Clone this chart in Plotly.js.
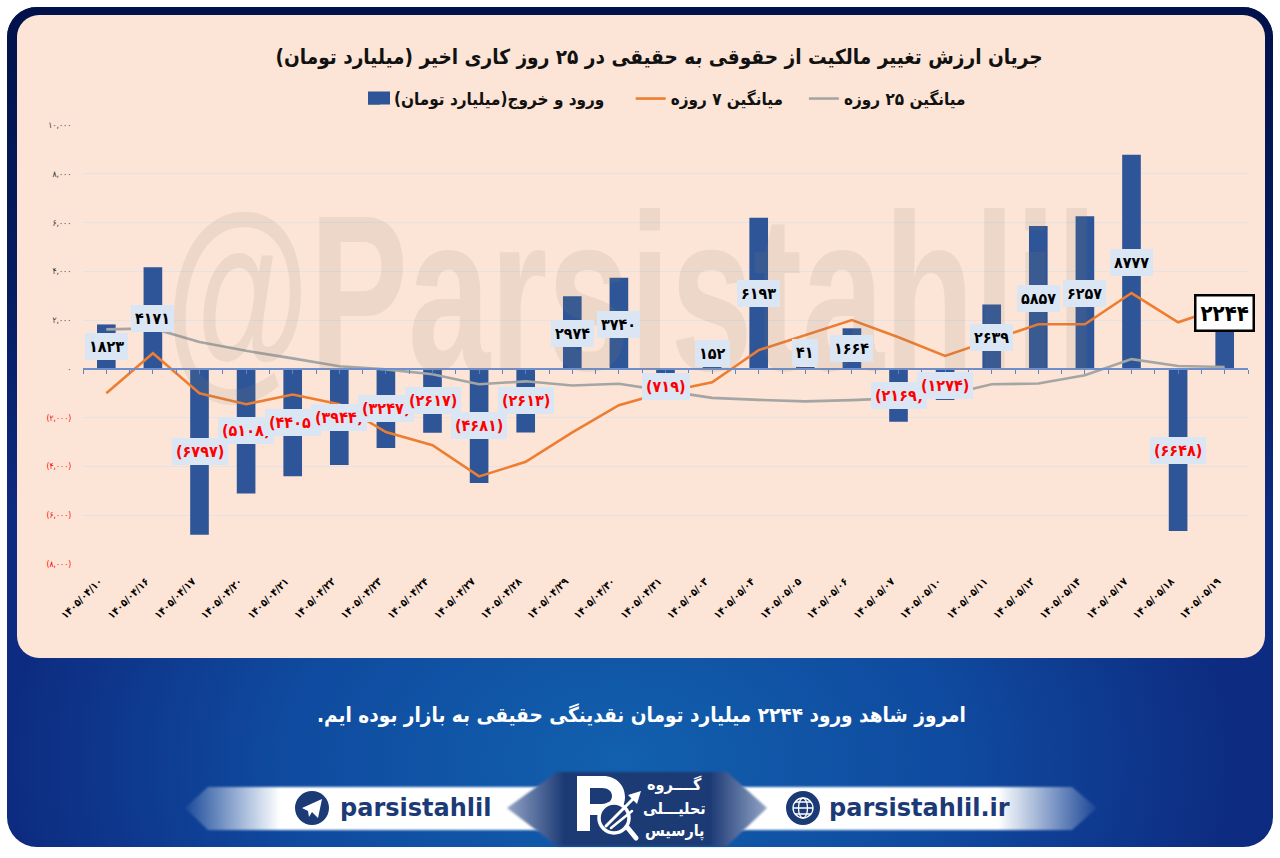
<!DOCTYPE html>
<html><head><meta charset="utf-8">
<script src="https://cdn.plot.ly/plotly-3.0.1.min.js"></script>
<style>
html,body{margin:0;padding:0;background:#fff;width:1280px;height:858px;overflow:hidden}
#bg{position:absolute;left:0;top:0}
#chart{position:absolute;left:0;top:0;width:1280px;height:858px}
</style></head><body>
<svg id="bg" width="1280" height="858" viewBox="0 0 1280 858" xmlns="http://www.w3.org/2000/svg">
<defs>
<radialGradient id="glow" gradientUnits="userSpaceOnUse" cx="0" cy="0" r="1" gradientTransform="translate(620 760) scale(620 420)">
<stop offset="0" stop-color="#1260ae"/><stop offset=".55" stop-color="#0f4a9f"/><stop offset="1" stop-color="#0d2b80"/></radialGradient>
<linearGradient id="topdark" x1="0" y1="0" x2="0" y2="1"><stop offset="0" stop-color="#01114a"/><stop offset=".35" stop-color="#01114a" stop-opacity=".55"/><stop offset=".6" stop-color="#01114a" stop-opacity="0"/></linearGradient>
<linearGradient id="bandL" x1="0" y1="0" x2="1" y2="0"><stop offset="0" stop-color="#fff" stop-opacity=".05"/><stop offset=".25" stop-color="#fff"/><stop offset="1" stop-color="#fff"/></linearGradient>
<linearGradient id="bandR" x1="0" y1="0" x2="1" y2="0"><stop offset="0" stop-color="#fff"/><stop offset=".74" stop-color="#fff"/><stop offset="1" stop-color="#fff" stop-opacity=".05"/></linearGradient>
<linearGradient id="hex" x1="0" y1="0" x2="1" y2="0"><stop offset="0" stop-color="#93a4c6"/><stop offset=".22" stop-color="#1c3a75"/><stop offset=".78" stop-color="#1c3a75"/><stop offset="1" stop-color="#93a4c6"/></linearGradient>
<filter id="soft" x="-5%" y="-5%" width="110%" height="110%"><feGaussianBlur stdDeviation="1.2"/></filter>
<filter id="softer" x="-5%" y="-10%" width="110%" height="120%"><feGaussianBlur stdDeviation="1"/></filter>
</defs>
<rect x="7" y="7" width="1266" height="840" rx="30" fill="url(#glow)"/>
<rect x="7" y="7" width="1266" height="840" rx="30" fill="url(#topdark)"/>
<rect x="17" y="15" width="1248" height="643" rx="22" fill="#fce5d6"/>
<polygon points="185,808 208,787 565,787 565,830 208,830" fill="url(#bandL)" filter="url(#softer)"/>
<polygon points="715,787 1072,787 1097,808 1072,830 715,830" fill="url(#bandR)" filter="url(#softer)"/>
<polygon points="507,808 557,772 727,772 767,808 727,846 557,846" fill="url(#hex)" filter="url(#soft)"/>
<path d="M577 776H603C617 776 625 786 625 797C625 806 620 813 610 815H590V831H577Z M590 788V804H602C608 804 612 801 612 796C612 791 608 788 602 788Z" fill="#fff" fill-rule="evenodd"/>
<circle cx="614" cy="818" r="15" fill="#1c3a75" stroke="#fff" stroke-width="3.5"/>
<g stroke="#fff" fill="none" stroke-linecap="round"><path d="M606 826L634 798" stroke-width="3"/><path d="M611 828L632 811" stroke-width="2.5"/><path d="M627 827L636 838" stroke-width="5"/></g>
<polygon points="641,791 628,795 637,804" fill="#fff"/>
<circle cx="312" cy="808" r="17" fill="#1c3a75"/>
<polygon points="302,808 322,799 318,818 312,812 309,817 308,811" fill="#fff"/>
<circle cx="803" cy="808" r="17" fill="#1c3a75"/>
<g fill="none" stroke="#fff" stroke-width="1.3"><circle cx="803" cy="808" r="10"/><ellipse cx="803" cy="808" rx="4.5" ry="10"/><path d="M793 808h20M795 802h16M795 814h16"/></g>
</svg>
<div id="chart"></div>
<script>
// ---------- data ----------
const dates = ['۱۴۰۵/۰۴/۱۰','۱۴۰۵/۰۴/۱۶','۱۴۰۵/۰۴/۱۷','۱۴۰۵/۰۴/۲۰','۱۴۰۵/۰۴/۲۱','۱۴۰۵/۰۴/۲۲','۱۴۰۵/۰۴/۲۳','۱۴۰۵/۰۴/۲۴','۱۴۰۵/۰۴/۲۷','۱۴۰۵/۰۴/۲۸','۱۴۰۵/۰۴/۲۹','۱۴۰۵/۰۴/۳۰','۱۴۰۵/۰۴/۳۱','۱۴۰۵/۰۵/۰۳','۱۴۰۵/۰۵/۰۴','۱۴۰۵/۰۵/۰۵','۱۴۰۵/۰۵/۰۶','۱۴۰۵/۰۵/۰۷','۱۴۰۵/۰۵/۱۰','۱۴۰۵/۰۵/۱۱','۱۴۰۵/۰۵/۱۲','۱۴۰۵/۰۵/۱۴','۱۴۰۵/۰۵/۱۷','۱۴۰۵/۰۵/۱۸','۱۴۰۵/۰۵/۱۹'];
const flow = [1823,4171,-6797,-5108,-4405,-3944,-3247,-2617,-4681,-2613,2974,3740,-719,152,6193,41,1664,-2169,-1274,2639,5857,6257,8777,-6648,2244];
const avg7 = [-1000,640,-1000,-1450,-1050,-1450,-2590,-3130,-4410,-3810,-2600,-1490,-950,-550,770,1380,2000,1300,530,1180,1830,1830,3110,1910,2550];
const avg25 = [1620,1660,1100,740,430,110,-20,-220,-630,-510,-680,-610,-900,-1190,-1270,-1330,-1280,-1200,-1080,-630,-600,-260,400,120,80];
const flowLabels = ['۱۸۲۳','۴۱۷۱','(۶۷۹۷)','(۵۱۰۸)','(۴۴۰۵)','(۳۹۴۴)','(۳۲۴۷)','(۲۶۱۷)','(۴۶۸۱)','(۲۶۱۳)','۲۹۷۴','۳۷۴۰','(۷۱۹)','۱۵۲','۶۱۹۳','۴۱','۱۶۶۴','(۲۱۶۹)','(۱۲۷۴)','۲۶۳۹','۵۸۵۷','۶۲۵۷','۸۷۷۷','(۶۶۴۸)','۲۲۴۴'];
const yTickVals = [-8000,-6000,-4000,-2000,0,2000,4000,6000,8000,10000];
const yTickText = ['(۸,۰۰۰)','(۶,۰۰۰)','(۴,۰۰۰)','(۲,۰۰۰)','۰','۲,۰۰۰','۴,۰۰۰','۶,۰۰۰','۸,۰۰۰','۱۰,۰۰۰'];
const titleText = 'جریان ارزش تغییر مالکیت از حقوقی به حقیقی در ۲۵ روز کاری اخیر (میلیارد تومان)';
const seriesNames = ['ورود و خروج(میلیارد تومان)','میانگین ۷ روزه','میانگین ۲۵ روزه'];
const caption = 'امروز شاهد ورود ۲۲۴۴ میلیارد تومان نقدینگی حقیقی به بازار بوده ایم.';
// ---------- label placement (axis units) ----------
const labelAnchor = [930,2080,-3370,-2510,-2190,-1980,-1610,-1280,-2310,-1280,1460,1830,-710,640,3100,680,850,-1080,-670,1300,2900,3100,4370,-3330,2280];

const RLM='\u200F', NB='\u00A0', FA='"DejaVu Sans Condensed","DejaVu Sans",sans-serif';
const L=83,R=1248,T=125,B=564;
const px=x=>(x-L)/(R-L), py=y=>(B-y)/(B-T);
const rtl=s=>RLM+s+RLM;

const traces=[
 {type:'bar',x:dates,y:flow,name:rtl(seriesNames[0])+NB.repeat(4),marker:{color:'#2e5597'},hoverinfo:'skip'},
 {type:'scatter',mode:'lines',x:dates,y:avg7,name:rtl(seriesNames[1])+NB.repeat(3),line:{color:'#ed7d31',width:2.6},hoverinfo:'skip'},
 {type:'scatter',mode:'lines',x:dates,y:avg25,name:rtl(seriesNames[2]),line:{color:'#a5a5a5',width:2.6},hoverinfo:'skip'},
 {type:'scatter',mode:'lines',x:[0],y:[0],xaxis:'x2',yaxis:'y',showlegend:false,hoverinfo:'skip'}
];

const anns=[{xref:'paper',yref:'paper',x:px(631),y:py(293),text:'@Parsistahlil',showarrow:false,xanchor:'center',yanchor:'middle',
  font:{family:'"Liberation Sans",Arial,sans-serif',size:222,weight:700,color:'rgba(140,125,115,0.13)'}}];
flow.forEach((v,i)=>{
  const last=i===flow.length-1;
  anns.push({x:dates[i],y:labelAnchor[i],xref:'x',yref:'y',text:flowLabels[i],showarrow:false,xanchor:'center',yanchor:'middle',
    bgcolor:last?'#ffffff':'#dbe6f5',bordercolor:last?'#000':'rgba(0,0,0,0)',borderwidth:last?2.5:0,borderpad:4,
    font:{family:FA,size:last?22:16,weight:700,color:v<0?'#ff0000':'#000'}});
});
const txt=(x,y,text,size,color,family,w)=>({xref:'paper',yref:'paper',x:px(x),y:py(y),text,showarrow:false,xanchor:'center',yanchor:'middle',font:{family:family||FA,size,color,weight:w||700}});
anns.push(txt(641,715,rtl(caption),20.6,'#ffffff'));
anns.push(txt(415,808,'parsistahlil',24,'#1c3a75','"DejaVu Sans"',700));
anns.push(txt(920,808,'parsistahlil.ir',24,'#1c3a75','"DejaVu Sans"',700));
anns.push(txt(674,784,'گــــروه',16,'#fff'));
anns.push(txt(674,808,'تحلیـــلی',16,'#fff'));
anns.push(txt(674,831,'پارسیس',16,'#fff'));

const layout={
 width:1280,height:858,autosize:false,
 margin:{l:L,r:1280-R,t:T,b:858-B,pad:0},
 paper_bgcolor:'rgba(0,0,0,0)',plot_bgcolor:'rgba(0,0,0,0)',
 bargap:0.6,
 title:{text:rtl(titleText),x:659/1280,xref:'container',xanchor:'center',y:1-57/858,yref:'container',yanchor:'middle',font:{family:FA,size:20.6,weight:700,color:'#111'}},
 showlegend:true,
 legend:{orientation:'h',x:px(354),xanchor:'left',y:py(81),yanchor:'top',bgcolor:'rgba(0,0,0,0)',font:{family:FA,size:17,weight:700,color:'#111'},itemwidth:30,traceorder:'normal'},
 shapes:[{type:'rect',xref:'paper',yref:'paper',x0:px(368),x1:px(390),y0:py(104.5),y1:py(91.5),fillcolor:'#2e5597',line:{width:0}}],
 xaxis:{type:'category',categoryorder:'array',categoryarray:dates,range:[-0.5,24.5],tickangle:-45,showgrid:false,zeroline:false,showline:false,ticks:'outside',ticklen:6,tickcolor:'rgba(0,0,0,0)',ticklabelshift:-7,
   tickfont:{family:FA,size:10.5,weight:700,color:'#000'},fixedrange:true},
 xaxis2:{overlaying:'x',anchor:'free',position:8000/18000,type:'linear',range:[-0.5,24.5],tick0:-0.5,dtick:0.5,ticks:'outside',ticklen:4,tickwidth:1,tickcolor:'#5f83c8',showticklabels:false,showgrid:false,zeroline:false,showline:true,linecolor:'#6f8fcc',linewidth:2,fixedrange:true},
 yaxis:{range:[-8000,10000],tickmode:'array',tickvals:yTickVals,
   ticktext:yTickText.map((t,i)=>yTickVals[i]<0?'<span style="color:#ff0000">'+t+'</span>':t),
   showgrid:true,gridcolor:'#e3e2e4',gridwidth:1,zeroline:false,ticks:'outside',ticklen:9,tickcolor:'rgba(0,0,0,0)',
   tickfont:{family:FA,size:8.5,color:'#333'},fixedrange:true},
 annotations:anns
};
Plotly.newPlot('chart',traces,layout,{displayModeBar:false,responsive:false}).then(()=>{
  const g=document.querySelector('#chart .annotation[data-index="0"]');
  if(g)g.setAttribute('transform','translate(631 0) scale(0.665 1) translate(-631 0)');
});
</script>
</body></html>
